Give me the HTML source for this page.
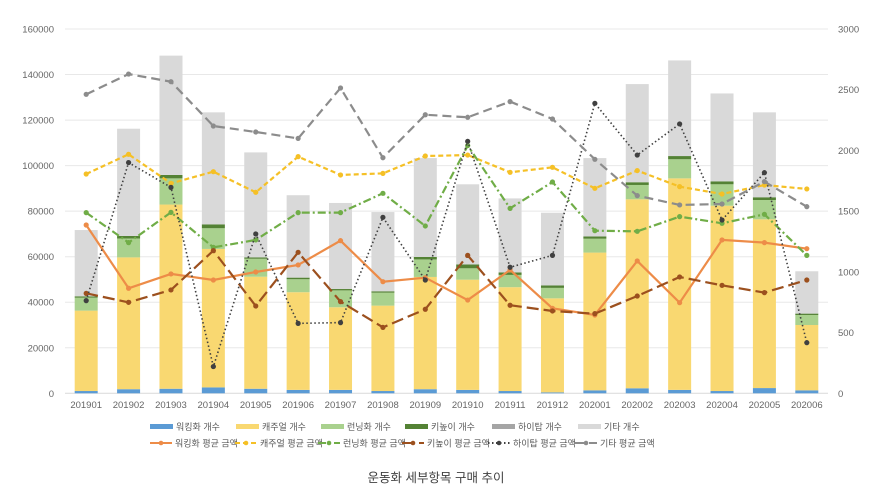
<!DOCTYPE html>
<html><head><meta charset="utf-8"><style>
body{margin:0;background:#fff;}
svg text{font-family:"Liberation Sans","Noto Sans CJK KR",sans-serif;}
</style></head><body>
<svg id="chart" width="872" height="499" viewBox="0 0 872 499" xmlns="http://www.w3.org/2000/svg"></svg>
<script>
const categories=["201901","201902","201903","201904","201905","201906","201907","201908","201909","201910","201911","201912","202001","202002","202003","202004","202005","202006"];
const walkingCount=[1000,1800,2000,2600,2000,1500,1500,1000,1800,1500,1000,400,1300,2200,1500,1000,2300,1300];
const casualCount=[35300,57900,80900,60800,49200,42900,36300,37500,49300,48400,45600,41300,60500,83000,92900,81400,74100,28700];
const runningCount=[5700,8300,11500,9100,7900,5700,7400,5700,7700,5000,5400,4600,6100,6300,8400,9400,8500,4400];
const kneehighCount=[600,1100,1500,1700,600,700,600,600,1100,1700,1100,1100,1000,1200,1400,1300,1200,600];
const hightopCount=[0,0,0,0,0,0,0,0,0,0,0,0,0,0,0,0,0,0];
const otherCount=[29100,47100,52400,49200,46100,36200,37800,34800,43400,35200,32500,31900,34400,43100,42000,38600,37300,18600];
const walkingAvg=[1386,865,983,933,999,1057,1257,919,952,768,1016,700,645,1090,746,1263,1241,1191];
const casualAvg=[1806,1968,1729,1825,1655,1949,1798,1811,1954,1962,1820,1861,1688,1834,1702,1641,1715,1683];
const runningAvg=[1488,1241,1490,1202,1263,1488,1488,1647,1378,2040,1523,1740,1339,1334,1455,1400,1474,1136];
const kneehighAvg=[823,749,851,1175,719,1161,755,543,692,1136,725,678,656,801,958,889,829,933];
const hightopAvg=[763,1900,1696,220,1312,576,582,1449,933,2075,1038,1136,2388,1962,2218,1427,1817,417];
const otherAvg=[2462,2629,2566,2201,2152,2099,2514,1940,2294,2273,2402,2259,1927,1628,1551,1559,1743,1537];
const leftTicks=[0,20000,40000,60000,80000,100000,120000,140000,160000];
const rightTicks=[0,500,1000,1500,2000,2500,3000];

const NS="http://www.w3.org/2000/svg";
const svg=document.getElementById('chart');
const X0=65,X1=828,YB=393.3,YT=29;
const step=(X1-X0)/categories.length;
const xc=i=>X0+step*(i+0.5);
const yL=v=>YB-(v/160000)*(YB-YT);
const yR=v=>YB-(v/3000)*(YB-YT);
function mk(tag,attrs,parent){const e=document.createElementNS(NS,tag);for(const k in attrs)e.setAttribute(k,attrs[k]);(parent||svg).appendChild(e);return e;}

const grid=mk('g',{});


leftTicks.forEach(t=>{mk('line',{x1:X0,x2:X1,y1:yL(t),y2:yL(t),stroke:t===0?'#d9d9d9':'#e8e8e8','stroke-width':1},grid);});
const la=mk('g',{});


leftTicks.forEach(t=>{const e=mk('text',{x:54,y:yL(t)+3.5,'text-anchor':'end','font-size':9.5,fill:'#666'},la);e.textContent=t;});
const ra=mk('g',{});


rightTicks.forEach(t=>{const e=mk('text',{x:838,y:yR(t)+3.5,'font-size':9.5,fill:'#666'},ra);e.textContent=t;});
const xa=mk('g',{});


categories.forEach((c,i)=>{const e=mk('text',{x:xc(i),y:408,'text-anchor':'middle','font-size':9.5,fill:'#666'},xa);e.textContent=c;});

const stacks=[[walkingCount,'#5b9bd5','walking'],[casualCount,'#f9d871','casual'],[runningCount,'#a9d18e','running'],[kneehighCount,'#548235','kneehigh'],[hightopCount,'#a5a5a5','hightop'],[otherCount,'#d9d9d9','other']];
const bars=mk('g',{});


const bw=23;
categories.forEach((c,i)=>{let acc=0;stacks.forEach(s=>{const v=s[0][i];const r=mk('rect',{x:xc(i)-bw/2,y:yL(acc+v),width:bw,height:Math.max(0,yL(acc)-yL(acc+v)),fill:s[1]},bars);


acc+=v;});});

const lines=[[walkingAvg,'#ed8c48','none','walking-avg-line'],[casualAvg,'#f5c026','5,3','casual-avg-line'],[runningAvg,'#70ad47','8,3,2,3','running-avg-line'],[kneehighAvg,'#9c501e','12,5','kneehigh-avg-line'],[hightopAvg,'#404040','1.5,2.5','hightop-avg-line'],[otherAvg,'#8c8c8c','9,5','other-avg-line']];
lines.forEach(l=>{const g=mk('g',{});


const pts=l[0].map((v,i)=>xc(i)+','+yR(v)).join(' ');
mk('polyline',{points:pts,fill:'none',stroke:l[1],'stroke-width':l[3].startsWith('hightop')?1.6:2.2,'stroke-dasharray':l[2]},g);
l[0].forEach((v,i)=>{const c=mk('circle',{cx:xc(i),cy:yR(v),r:2.6,fill:l[1]},g);

});});

const lg=mk('g',{});


const row1=[['워킹화 개수','#5b9bd5',150],['캐주얼 개수','#f9d871',236],['런닝화 개수','#a9d18e',321],['키높이 개수','#548235',405],['하이탑 개수','#a5a5a5',492],['기타 개수','#d9d9d9',578]];
row1.forEach(r=>{const g=mk('g',{},lg);


mk('rect',{x:r[2],y:424,width:23,height:5,fill:r[1]},g);
const t=mk('text',{x:r[2]+26,y:430,'font-size':9,fill:'#595959'},g);t.textContent=r[0];});
const row2=[['워킹화 평균 금액',0,150],['캐주얼 평균 금액',1,235],['런닝화 평균 금액',2,318],['키높이 평균 금액',3,402],['하이탑 평균 금액',4,488],['기타 평균 금액',5,575]];
row2.forEach(r=>{const l=lines[r[1]];const g=mk('g',{},lg);


mk('line',{x1:r[2],x2:r[2]+22,y1:443,y2:443,stroke:l[1],'stroke-width':2,'stroke-dasharray':l[2]==='none'?'':l[2]},g);
mk('circle',{cx:r[2]+11,cy:443,r:2.3,fill:l[1]},g);
const t=mk('text',{x:r[2]+25,y:446.5,'font-size':9,fill:'#595959'},g);t.textContent=r[0];});

const title=mk('text',{x:436,y:482,'text-anchor':'middle','font-size':12.5,fill:'#404040'});


title.textContent='운동화 세부항목 구매 추이';
</script>
</body></html>
